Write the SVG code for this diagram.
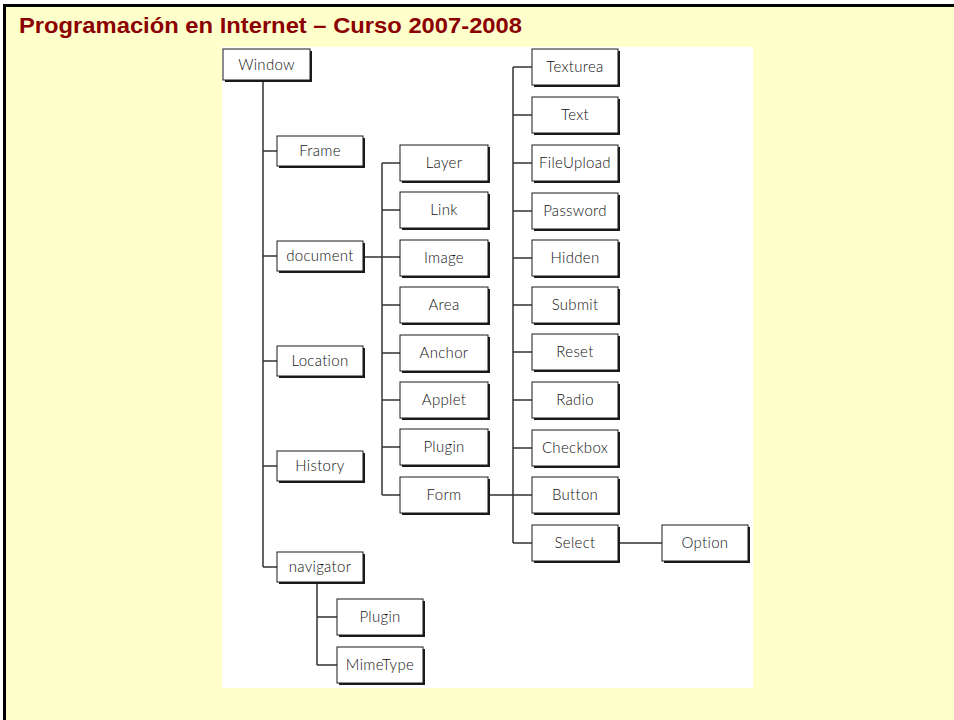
<svg xmlns="http://www.w3.org/2000/svg" width="954" height="720" viewBox="0 0 954 720">
<style>
.sh{fill:#1a1a1a}
.bx{fill:#fff;stroke:#1a1a1a;stroke-width:1}
.lb{font-family:Lato,"Open Sans","DejaVu Sans",sans-serif;font-size:15px;font-weight:300;letter-spacing:0.3px;fill:#111;text-anchor:middle}
.cn{stroke:#333;stroke-width:1.5;fill:none}
</style>
<rect x="0" y="0" width="954" height="720" fill="#fff"/>
<rect x="3" y="4" width="951" height="716" fill="#000"/>
<rect x="6" y="7" width="948" height="713" fill="#FFFFCC"/>
<text x="19" y="33" font-family="'Liberation Sans',Arial,sans-serif" font-weight="bold" font-size="21.5" fill="#8B0000" textLength="503" lengthAdjust="spacingAndGlyphs">Programación en Internet – Curso 2007-2008</text>
<rect x="222" y="47" width="531" height="641" fill="#fff"/>
<g id="connectors">
<path class="cn" d="M263 80V567M263 151H277M263 256H277M263 361H277M263 466H277M263 567H277"/>
<path class="cn" d="M363 257H400M382 163V495M382 163H400M382 210H400M382 305H400M382 353H400M382 400H400M382 447H400M382 495H400"/>
<path class="cn" d="M488 495H532M513 67V543M513 67H532M513 115H532M513 163H532M513 211H532M513 258H532M513 305H532M513 352H532M513 400H532M513 448H532M513 543H532M618 543H662"/>
<path class="cn" d="M317 582V665M317 617H337M317 665H337"/>
</g>
<g id="n-window"><rect class="sh" x="225" y="51" width="87" height="31"/><rect class="bx" x="223" y="49" width="87" height="31"/><text class="lb" x="266.5" y="69.5">Window</text></g>
<g id="n-frame"><rect class="sh" x="279" y="138" width="86" height="30"/><rect class="bx" x="277" y="136" width="86" height="30"/><text class="lb" x="320" y="156">Frame</text></g>
<g id="n-document"><rect class="sh" x="279" y="243" width="86" height="30"/><rect class="bx" x="277" y="241" width="86" height="30"/><text class="lb" x="320" y="261">document</text></g>
<g id="n-location"><rect class="sh" x="279" y="348" width="86" height="30"/><rect class="bx" x="277" y="346" width="86" height="30"/><text class="lb" x="320" y="366">Location</text></g>
<g id="n-history"><rect class="sh" x="279" y="453" width="86" height="30"/><rect class="bx" x="277" y="451" width="86" height="30"/><text class="lb" x="320" y="471">History</text></g>
<g id="n-navigator"><rect class="sh" x="279" y="554" width="86" height="30"/><rect class="bx" x="277" y="552" width="86" height="30"/><text class="lb" x="320" y="572">navigator</text></g>
<g id="n-layer"><rect class="sh" x="402" y="147" width="88" height="36"/><rect class="bx" x="400" y="145" width="88" height="36"/><text class="lb" x="444" y="168">Layer</text></g>
<g id="n-link"><rect class="sh" x="402" y="194" width="88" height="36"/><rect class="bx" x="400" y="192" width="88" height="36"/><text class="lb" x="444" y="215">Link</text></g>
<g id="n-image"><rect class="sh" x="402" y="242" width="88" height="36"/><rect class="bx" x="400" y="240" width="88" height="36"/><text class="lb" x="444" y="263">Image</text></g>
<g id="n-area"><rect class="sh" x="402" y="289" width="88" height="36"/><rect class="bx" x="400" y="287" width="88" height="36"/><text class="lb" x="444" y="310">Area</text></g>
<g id="n-anchor"><rect class="sh" x="402" y="337" width="88" height="36"/><rect class="bx" x="400" y="335" width="88" height="36"/><text class="lb" x="444" y="358">Anchor</text></g>
<g id="n-applet"><rect class="sh" x="402" y="384" width="88" height="36"/><rect class="bx" x="400" y="382" width="88" height="36"/><text class="lb" x="444" y="405">Applet</text></g>
<g id="n-plugin1"><rect class="sh" x="402" y="431" width="88" height="36"/><rect class="bx" x="400" y="429" width="88" height="36"/><text class="lb" x="444" y="452">Plugin</text></g>
<g id="n-form"><rect class="sh" x="402" y="479" width="88" height="36"/><rect class="bx" x="400" y="477" width="88" height="36"/><text class="lb" x="444" y="500">Form</text></g>
<g id="n-texturea"><rect class="sh" x="534" y="51" width="86" height="36"/><rect class="bx" x="532" y="49" width="86" height="36"/><text class="lb" x="575" y="72">Texturea</text></g>
<g id="n-text"><rect class="sh" x="534" y="99" width="86" height="36"/><rect class="bx" x="532" y="97" width="86" height="36"/><text class="lb" x="575" y="120">Text</text></g>
<g id="n-fileupload"><rect class="sh" x="534" y="147" width="86" height="36"/><rect class="bx" x="532" y="145" width="86" height="36"/><text class="lb" x="575" y="168">FileUpload</text></g>
<g id="n-password"><rect class="sh" x="534" y="195" width="86" height="36"/><rect class="bx" x="532" y="193" width="86" height="36"/><text class="lb" x="575" y="216">Password</text></g>
<g id="n-hidden"><rect class="sh" x="534" y="242" width="86" height="36"/><rect class="bx" x="532" y="240" width="86" height="36"/><text class="lb" x="575" y="263">Hidden</text></g>
<g id="n-submit"><rect class="sh" x="534" y="289" width="86" height="36"/><rect class="bx" x="532" y="287" width="86" height="36"/><text class="lb" x="575" y="310">Submit</text></g>
<g id="n-reset"><rect class="sh" x="534" y="336" width="86" height="36"/><rect class="bx" x="532" y="334" width="86" height="36"/><text class="lb" x="575" y="357">Reset</text></g>
<g id="n-radio"><rect class="sh" x="534" y="384" width="86" height="36"/><rect class="bx" x="532" y="382" width="86" height="36"/><text class="lb" x="575" y="405">Radio</text></g>
<g id="n-checkbox"><rect class="sh" x="534" y="432" width="86" height="36"/><rect class="bx" x="532" y="430" width="86" height="36"/><text class="lb" x="575" y="453">Checkbox</text></g>
<g id="n-button"><rect class="sh" x="534" y="479" width="86" height="36"/><rect class="bx" x="532" y="477" width="86" height="36"/><text class="lb" x="575" y="500">Button</text></g>
<g id="n-select"><rect class="sh" x="534" y="527" width="86" height="36"/><rect class="bx" x="532" y="525" width="86" height="36"/><text class="lb" x="575" y="548">Select</text></g>
<g id="n-option"><rect class="sh" x="664" y="527" width="86" height="36"/><rect class="bx" x="662" y="525" width="86" height="36"/><text class="lb" x="705" y="548">Option</text></g>
<g id="n-plugin2"><rect class="sh" x="339" y="601" width="86" height="36"/><rect class="bx" x="337" y="599" width="86" height="36"/><text class="lb" x="380" y="622">Plugin</text></g>
<g id="n-mimetype"><rect class="sh" x="339" y="649" width="86" height="36"/><rect class="bx" x="337" y="647" width="86" height="36"/><text class="lb" x="380" y="670">MimeType</text></g>
</svg>
